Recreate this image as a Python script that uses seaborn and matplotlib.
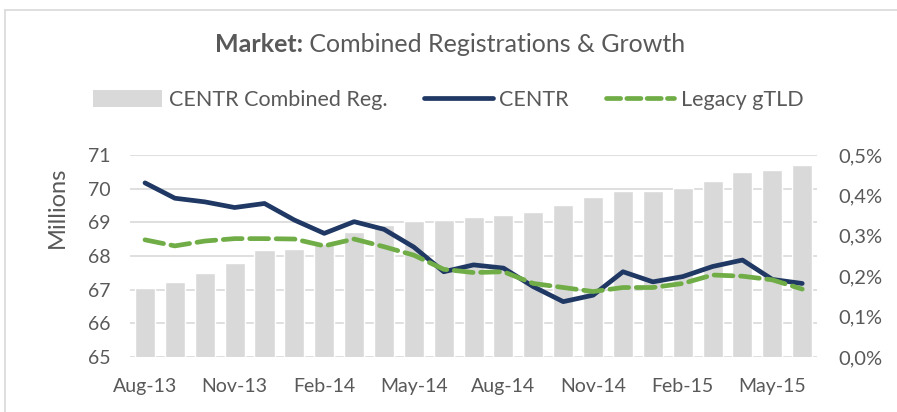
import matplotlib
matplotlib.use("Agg")
import matplotlib.pyplot as plt
from matplotlib.lines import Line2D
from matplotlib.patches import Patch
from matplotlib.ticker import FuncFormatter
import numpy as np
import pandas as pd
import seaborn as sns

# monthly data Aug-13 .. Jun-15
months = ["Aug-13", "Sep-13", "Oct-13", "Nov-13", "Dec-13", "Jan-14", "Feb-14",
          "Mar-14", "Apr-14", "May-14", "Jun-14", "Jul-14", "Aug-14", "Sep-14",
          "Oct-14", "Nov-14", "Dec-14", "Jan-15", "Feb-15", "Mar-15", "Apr-15",
          "May-15", "Jun-15"]
combined_reg = [67.04, 67.23, 67.50, 67.80, 68.17, 68.20, 68.35, 68.72, 68.92,
                69.03, 69.07, 69.16, 69.21, 69.31, 69.50, 69.74, 69.93, 69.93,
                70.02, 70.24, 70.49, 70.54, 70.69]
centr_growth = [0.431, 0.393, 0.384, 0.370, 0.380, 0.339, 0.306, 0.335, 0.316,
                0.272, 0.211, 0.228, 0.220, 0.174, 0.137, 0.153, 0.211, 0.186,
                0.199, 0.224, 0.240, 0.192, 0.182]
legacy_growth = [0.290, 0.275, 0.287, 0.293, 0.293, 0.292, 0.275, 0.292, 0.273,
                 0.252, 0.217, 0.209, 0.211, 0.182, 0.172, 0.162, 0.172, 0.172,
                 0.182, 0.203, 0.200, 0.191, 0.168]
tick_months = ["Aug-13", "Nov-13", "Feb-14", "May-14", "Aug-14", "Nov-14",
               "Feb-15", "May-15"]

BAR = "#d9d9d9"
NAVY = "#203864"
GREEN = "#70ad47"
TXT = "#595959"


def main():
    sns.set_style("white")
    plt.rcParams["font.family"] = ["Lato", "DejaVu Sans"]

    df = pd.DataFrame({"month": months, "reg": combined_reg,
                       "centr": centr_growth, "legacy": legacy_growth})
    df["pos"] = np.arange(len(df))

    fig = plt.figure(figsize=(8.97, 4.12), dpi=100)
    ax = fig.add_axes([0.145, 0.1335, 0.766, 0.4903])

    sns.barplot(data=df, x="month", y="reg", color=BAR, width=0.67,
                saturation=1, ax=ax, zorder=2)
    ax.set_ylim(65, 71)
    ax.set_yticks(range(65, 72))
    ax.set_xlim(-0.5, len(df) - 0.5)
    ax.grid(axis="y", color=BAR, linewidth=1.2, zorder=0)
    ax.set_axisbelow(True)
    ax.set_xlabel("")
    ax.set_ylabel("Millions", fontsize=17, color=TXT)
    ax.yaxis.set_label_coords(-0.09, 0.74)
    ax.set_xticks([months.index(m) for m in tick_months])
    ax.set_xticklabels(tick_months)
    ax.tick_params(axis="x", length=0, pad=15, labelsize=14, labelcolor=TXT)
    ax.tick_params(axis="y", length=0, pad=14, labelsize=14, labelcolor=TXT)
    sns.despine(ax=ax, left=True, bottom=True)

    ax2 = ax.twinx()
    sns.lineplot(data=df, x="pos", y="centr", color=NAVY, linewidth=3.4,
                 ax=ax2, solid_capstyle="round")
    sns.lineplot(data=df, x="pos", y="legacy", color=GREEN, linewidth=3.4,
                 ax=ax2, dashes=False)
    ax2.lines[-1].set_dashes((4, 1.6))
    ax2.lines[-1].set_dash_capstyle("round")
    ax2.set_ylim(0, 0.5)
    ax2.set_yticks(np.arange(0, 0.51, 0.1))
    ax2.yaxis.set_major_formatter(
        FuncFormatter(lambda v, _: f"{v:.1f}%".replace(".", ",")))
    ax2.set_xlim(-0.5, len(df) - 0.5)
    ax2.set_xlabel("")
    ax2.set_ylabel("")
    ax2.tick_params(axis="y", length=0, pad=15, labelsize=14.5, labelcolor=TXT)
    sns.despine(ax=ax2, left=True, bottom=True, right=True)

    # title with bold lead-in, centred as a whole
    ty = 1 - 45 / 412
    full = fig.text(0.5, ty, "Market: Combined Registrations & Growth",
                    fontsize=18, color=TXT, ha="center", va="center")
    fig.canvas.draw()
    x0 = full.get_window_extent().x0 / fig.bbox.width
    full.remove()
    b = fig.text(x0, ty, "Market:", fontsize=18, fontweight="bold",
                 color=TXT, ha="left", va="center")
    fig.canvas.draw()
    bx = b.get_window_extent().x1 / fig.bbox.width
    fig.text(bx, ty, " Combined Registrations & Growth", fontsize=18,
             color=TXT, ha="left", va="center")

    handles = [
        Patch(facecolor=BAR, edgecolor="none", label="CENTR Combined Reg."),
        Line2D([], [], color=NAVY, linewidth=3.4, solid_capstyle="round",
               label="CENTR"),
        Line2D([], [], color=GREEN, linewidth=3.4, dashes=(3.0, 1.3),
               dash_capstyle="round", label="Legacy gTLD"),
    ]
    fig.legend(handles=handles, loc="center", bbox_to_anchor=(0.5, 1 - 100 / 412),
               ncol=3, frameon=False, fontsize=15.5, handlelength=3.2,
               handleheight=0.8, columnspacing=1.7, handletextpad=0.3,
               labelcolor=TXT)

    # outer chart frame
    fig.add_artist(Line2D([5 / 897, 1], [1 - 10 / 412] * 2, color=BAR,
                          linewidth=1.2, transform=fig.transFigure))
    fig.add_artist(Line2D([5 / 897] * 2, [0, 1 - 10 / 412], color=BAR,
                          linewidth=1.2, transform=fig.transFigure))

    fig.savefig("out.png", dpi=100)


if __name__ == "__main__":
    main()
